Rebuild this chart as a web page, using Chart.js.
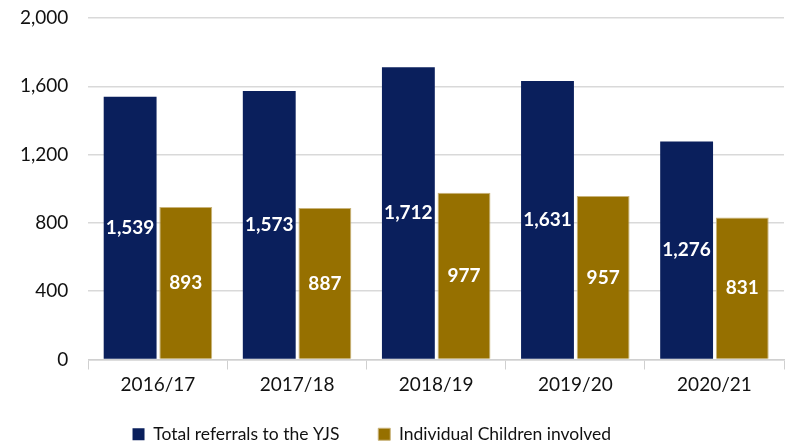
<!DOCTYPE html>
<html>
<head>
<meta charset="utf-8">
<script src="https://cdn.jsdelivr.net/npm/chart.js@4"></script>
<style>
  body { margin: 0; background: #fff; }
  #wrap { width: 786px; height: 444px; }
</style>
</head>
<body>
<div id="wrap"><canvas id="myChart"></canvas></div>
<script>
const years = ['2016/17', '2017/18', '2018/19', '2019/20', '2020/21'];
const referrals = [1539, 1573, 1712, 1631, 1276];
const children = [893, 887, 977, 957, 831];
const yTicks = [0, 400, 800, 1200, 1600, 2000];

// draw the values in the middle of each bar
const midLabels = {
    id: 'midLabels',
    afterDatasetsDraw(chart) {
        const ctx = chart.ctx;
        ctx.save();
        ctx.font = 'bold 19px Lato';
        ctx.fillStyle = '#fff';
        ctx.textAlign = 'center';
        ctx.textBaseline = 'middle';
        chart.data.datasets.forEach((ds, i) => {
            chart.getDatasetMeta(i).data.forEach((bar, j) => {
                const mid = (bar.y + bar.base) / 2;
                ctx.fillText(ds.data[j].toLocaleString('en-GB'), bar.x, mid);
            });
        });
        ctx.restore();
    }
};

new Chart(document.getElementById('myChart'), {
    type: 'bar',
    data: {
        labels: years,
        datasets: [
            {
                label: 'Total referrals to the YJS',
                data: referrals,
                backgroundColor: '#0a1f5c',
                categoryPercentage: 0.8,
                barPercentage: 0.95
            },
            {
                label: 'Individual Children involved',
                data: children,
                backgroundColor: '#967000',
                borderColor: '#c9b37a',
                borderWidth: 1,
                categoryPercentage: 0.8,
                barPercentage: 0.95
            }
        ]
    },
    options: {
        responsive: true,
        maintainAspectRatio: false,
        animation: false,
        layout: { padding: { left: 0, right: 2, top: 0, bottom: -9 } },
        scales: {
            x: {
                grid: { offset: true, drawOnChartArea: false, color: '#d0d0d0', tickLength: 10 },
                border: { color: '#d0d0d0', width: 1.5 },
                ticks: { font: { family: 'Lato', size: 19 }, color: '#111', padding: 4 },
                afterFit: scale => { scale.height = 63; }
            },
            y: {
                min: 0,
                max: 2000,
                afterBuildTicks: axis => { axis.ticks = yTicks.map(v => ({ value: v })); },
                afterFit: scale => { scale.paddingTop = 18; },
                grid: { color: '#d9d9d9', lineWidth: 1.5, drawTicks: false },
                border: { display: false },
                ticks: {
                    font: { family: 'Lato', size: 19 },
                    color: '#111',
                    padding: 20,
                    callback: v => v.toLocaleString('en-GB')
                }
            }
        },
        plugins: {
            legend: {
                position: 'bottom',
                labels: {
                    font: { family: 'Lato', size: 17.5 },
                    color: '#111',
                    boxWidth: 12,
                    boxHeight: 12,
                    padding: 3,
                    generateLabels: chart => {
                        const items = Chart.defaults.plugins.legend.labels.generateLabels(chart);
                        items[0].text += '        ';
                        items[1].text += '         ';
                        return items;
                    }
                }
            },
            tooltip: { enabled: false }
        }
    },
    plugins: [midLabels]
});
</script>
</body>
</html>
